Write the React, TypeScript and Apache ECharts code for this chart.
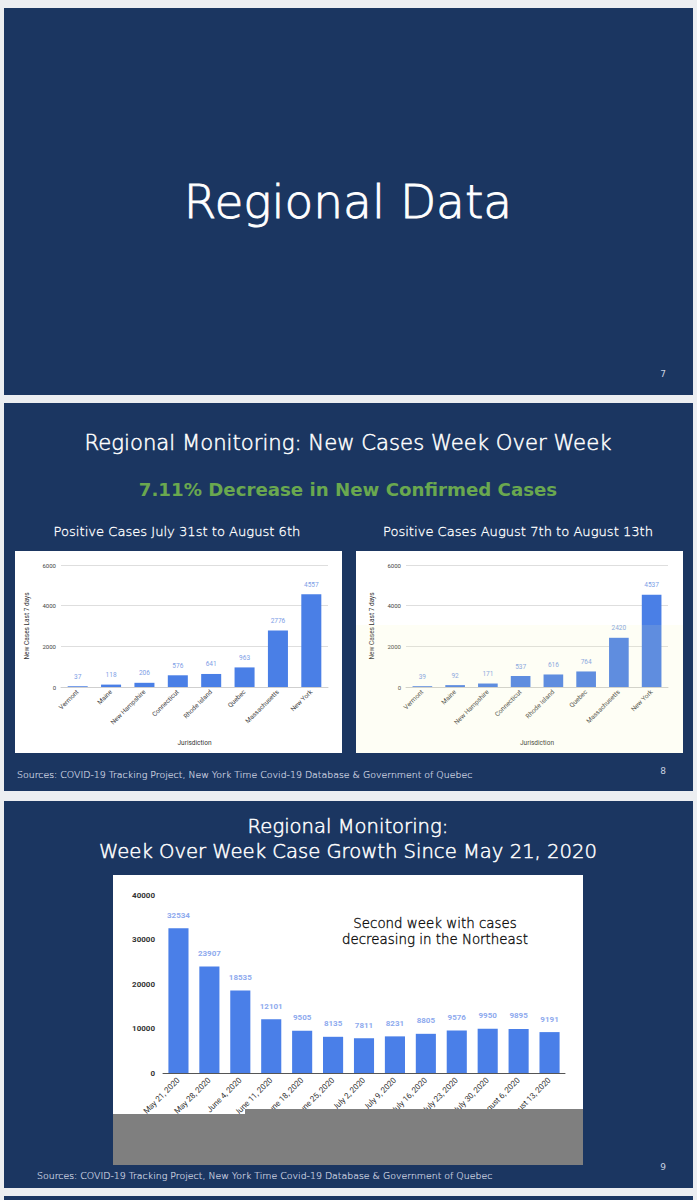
import React, { useEffect, useRef } from "react";
import * as echarts from "echarts";

const jurisdictions = ["Vermont", "Maine", "New Hampshire", "Connecticut", "Rhode Island", "Quebec", "Massachusetts", "New York"];
const casesJul31Aug6 = [37, 118, 206, 576, 641, 963, 2776, 4557];
const casesAug7Aug13 = [39, 92, 171, 537, 616, 764, 2420, 4537];
const smallYTicks = [0, 2000, 4000, 6000];

const weeks = ["May 21, 2020", "May 28, 2020", "June 4, 2020", "June 11, 2020", "June 18, 2020", "June 25, 2020", "July 2, 2020", "July 9, 2020", "July 16, 2020", "July 23, 2020", "July 30, 2020", "August 6, 2020", "August 13, 2020"];
const weeklyCases = [32534, 23907, 18535, 12101, 9505, 8135, 7811, 8231, 8805, 9576, 9950, 9895, 9191];
const bigYTicks = [0, 10000, 20000, 30000, 40000];

const SLIDE = "#1b3661";
const SLIDE_FONT = "'DejaVu Sans', 'Open Sans', sans-serif";
const CHART_FONT = "Roboto, 'Noto Sans', sans-serif";

export default function App() {
  const ref = useRef<HTMLDivElement>(null);
  useEffect(() => {
    if (!ref.current) return;
    const chart = echarts.init(ref.current, null, { renderer: "svg" });

    const txt = (text: string, x: number, y: number, size: number, fill: string, opts: any = {}) => ({
      type: "text",
      z: opts.z ?? 10,
      style: {
        text,
        x,
        y,
        fill,
        fontSize: size,
        fontFamily: opts.family ?? SLIDE_FONT,
        fontWeight: opts.weight ?? 300,
        align: opts.align ?? "center",
        textAlign: opts.align ?? "center",
        verticalAlign: "middle",
        textVerticalAlign: "middle",
        stroke: opts.stroke ? fill : undefined,
        lineWidth: opts.stroke ?? 0,
      },
    });
    const rect = (x: number, y: number, w: number, h: number, fill: string, z: number) => ({
      type: "rect",
      z,
      shape: { x, y, width: w, height: h },
      style: { fill },
    });
    const plain = (v: number) => String(v);

    const smallX = (gi: number) => ({
      gridIndex: gi,
      type: "category",
      data: jurisdictions,
      axisTick: { show: false },
      axisLine: { lineStyle: { color: "#cfcfcf" } },
      axisLabel: { rotate: 45, interval: 0, fontSize: 6.5, color: "#444", margin: 4, fontFamily: CHART_FONT },
      name: "Jurisdiction",
      nameLocation: "middle",
      nameGap: 52,
      nameTextStyle: { fontSize: 6.5, color: "#333", fontFamily: CHART_FONT },
    });
    const smallY = (gi: number) => ({
      gridIndex: gi,
      type: "value",
      min: smallYTicks[0],
      max: smallYTicks[smallYTicks.length - 1],
      interval: smallYTicks[1] - smallYTicks[0],
      axisLabel: { fontSize: 6, color: "#444", margin: 5, fontFamily: CHART_FONT, formatter: plain },
      splitLine: { lineStyle: { color: "#dedede" } },
      name: "New Cases Last 7 days",
      nameLocation: "middle",
      nameRotate: 90,
      nameGap: 31,
      nameTextStyle: { fontSize: 6.5, color: "#333", fontFamily: CHART_FONT },
    });
    const smallSeries = (gi: number, data: number[]) => ({
      type: "bar",
      xAxisIndex: gi,
      yAxisIndex: gi,
      data,
      barWidth: "60%",
      itemStyle: { color: "#4a7fe6" },
      label: { show: true, position: "top", distance: 6, fontSize: 6.5, color: "#7d9ee6", fontFamily: CHART_FONT },
    });

    chart.setOption({
      animation: false,
      grid: [
        { left: 61, top: 565, width: 267, height: 122 },
        { left: 406, top: 565, width: 262, height: 122 },
        { left: 163, top: 895, width: 402, height: 178 },
      ],
      xAxis: [
        smallX(0),
        smallX(1),
        {
          gridIndex: 2,
          type: "category",
          data: weeks,
          axisTick: { show: false },
          axisLine: { lineStyle: { color: "#555", width: 1 } },
          axisLabel: { rotate: 45, interval: 0, fontSize: 8, color: "#333", margin: 6, fontFamily: CHART_FONT },
        },
      ],
      yAxis: [
        smallY(0),
        smallY(1),
        {
          gridIndex: 2,
          type: "value",
          min: bigYTicks[0],
          max: bigYTicks[bigYTicks.length - 1],
          interval: bigYTicks[1] - bigYTicks[0],
          axisLabel: { fontSize: 8, color: "#333", fontWeight: "bold", margin: 8, fontFamily: CHART_FONT, formatter: plain },
          splitLine: { show: false },
        },
      ],
      series: [
        smallSeries(0, casesJul31Aug6),
        smallSeries(1, casesAug7Aug13),
        {
          type: "bar",
          xAxisIndex: 2,
          yAxisIndex: 2,
          data: weeklyCases,
          barWidth: "65%",
          itemStyle: { color: "#4a7fe8" },
          label: { show: true, position: "top", distance: 9, fontSize: 8, fontWeight: "bold", color: "#8eaaee", fontFamily: CHART_FONT },
        },
      ],
      graphic: [
        // slides
        rect(4, 8, 689, 387, SLIDE, -100),
        rect(4, 403, 689, 388, SLIDE, -100),
        rect(4, 801, 689, 387, SLIDE, -100),
        rect(4, 1196, 689, 10, SLIDE, -100),
        // panels
        rect(15, 551, 327, 202, "#ffffff", -90),
        rect(356, 551, 327, 202, "#ffffff", -90),
        rect(113, 875, 470, 290, "#ffffff", -90),
        // overlays
        rect(356, 625, 327, 128, "rgba(250,245,170,0.12)", 50),
        rect(245, 1109, 338, 56, "#7f7f7f", 100),
        rect(113, 1114, 132, 51, "#7f7f7f", 100),
        // slide 1
        txt("Regional Data", 348, 201, 47, "#ffffff", { stroke: 0.9 }),
        txt("7", 663, 374, 9, "#c9d2e0", { weight: 400 }),
        // slide 2
        txt("Regional Monitoring: New Cases Week Over Week", 348, 442, 21.2, "#ffffff", { stroke: 0.5 }),
        txt("7.11% Decrease in New Confirmed Cases", 348, 489, 18.2, "#6aa84f", { weight: "bold" }),
        txt("Positive Cases July 31st to August 6th", 177, 531, 13.1, "#ffffff", { stroke: 0.3 }),
        txt("Positive Cases August 7th to August 13th", 518, 531, 13.1, "#ffffff", { stroke: 0.3 }),
        txt("Sources: COVID-19 Tracking Project, New York Time Covid-19 Database & Government of Quebec", 17, 774, 9.4, "#cfd5e0", { align: "left", stroke: 0.2 }),
        txt("8", 663, 771, 9, "#c9d2e0", { weight: 400 }),
        // slide 3
        txt("Regional Monitoring:", 348, 826, 19.6, "#ffffff", { stroke: 0.5 }),
        txt("Week Over Week Case Growth Since May 21, 2020", 348, 851, 19.6, "#ffffff", { stroke: 0.5 }),
        txt("Second week with cases", 435, 923, 13.4, "#111111", { z: 60, stroke: 0.35 }),
        txt("decreasing in the Northeast", 435, 939, 13.4, "#111111", { z: 60, stroke: 0.35 }),
        txt("Sources: COVID-19 Tracking Project, New York Time Covid-19 Database & Government of Quebec", 37, 1175, 9.4, "#cfd5e0", { align: "left", stroke: 0.2 }),
        txt("9", 663, 1167, 9, "#c9d2e0", { weight: 400 }),
      ],
    });
    return () => chart.dispose();
  }, []);
  return (
    <div
      ref={ref}
      style={{ position: "absolute", left: 0, top: 0, width: 697, height: 1200, background: "#eceef1" }}
    />
  );
}
